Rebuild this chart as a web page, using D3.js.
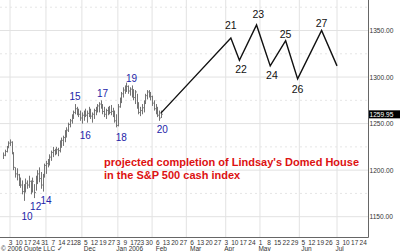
<!DOCTYPE html>
<html>
<head>
<meta charset="utf-8">
<script src="https://cdn.jsdelivr.net/npm/d3@7"></script>
<style>
  body { margin: 0; background: #fff; }
  svg { display: block; font-family: Arial, "Liberation Sans", sans-serif; }
</style>
</head>
<body>
<svg id="chart" width="400" height="251"></svg>
<script>
// trading calendar (market closed on these days)
const holidays = ["2005-11-24", "2005-12-26", "2006-01-02", "2006-01-16"];
const firstBar = "2005-09-27";

// daily bars, S&P 500 cash, one entry per trading day from firstBar
const barHigh = [1219,1222,1226,1231,1233,1231,1219,1203,1202,1196,1192,1189,1185,1191,1189,1194,1189,1192,1185,1194,
  1200,1203,1198,1196,1207,1210,1212,1217,1221,1225,1223,1225,1224,1232,1235,1237,1243,1246,1251,1255,
  1260,1264,1271,1268,1266,1264,1262,1264,1266,1264,1268,1266,1262,1266,1268,1271,1273,1275,1271,1268,
  1266,1268,1269,1270,1267,1264,1260,1271,1278,1284,1289,1291,1294,1291,1289,1291,1287,1286,1282,1273,
  1268,1271,1275,1282,1286,1286,1284,1280,1275,1271,1268,1264,1264];
const barLow = [1212,1215,1219,1224,1226,1217,1200,1192,1189,1183,1181,1174,1167,1176,1180,1181,1174,1176,1170,1178,
  1185,1187,1180,1177,1192,1196,1203,1205,1210,1214,1216,1217,1215,1219,1224,1226,1230,1235,1241,1246,
  1250,1255,1260,1259,1257,1253,1250,1253,1257,1251,1257,1255,1251,1255,1259,1262,1262,1266,1260,1257,
  1255,1259,1260,1259,1257,1251,1246,1247,1267,1272,1278,1282,1284,1282,1280,1278,1275,1271,1266,1260,
  1258,1260,1262,1271,1276,1278,1275,1269,1264,1260,1257,1253,1256];
const barClose = [1216,1220,1224,1229,1230,1219,1203,1196,1195,1187,1184,1177,1178,1186,1184,1188,1178,1188,1176,1191,
  1196,1191,1184,1193,1205,1207,1210,1214,1219,1221,1219,1222,1221,1230,1232,1235,1240,1243,1249,1253,
  1258,1262,1266,1263,1260,1256,1259,1262,1259,1261,1265,1258,1260,1264,1266,1269,1271,1268,1263,1260,
  1264,1265,1262,1263,1260,1253,1248,1268,1274,1282,1286,1289,1290,1285,1287,1283,1278,1284,1268,1262,
  1264,1267,1273,1280,1284,1281,1279,1272,1266,1263,1259,1256,1260];
const lastPrice = 1259.95;

// projected path of the domed house
const projDates = ["2006-02-08","2006-04-06","2006-04-13","2006-04-27","2006-05-09","2006-05-22","2006-05-31","2006-06-20","2006-07-03"];
const projValues = [1261, 1342, 1318, 1356, 1312, 1339, 1298, 1350, 1312];

// wave count labels (anchored in date / price units)
const waveNames = ["10","12","14","15","16","17","18","19","20"];
const waveDates = ["2005-10-17","2005-10-24","2005-11-01","2005-11-25","2005-12-05","2005-12-19","2006-01-05","2006-01-13","2006-02-09"];
const wavePrices = [1146.5, 1157.5, 1164, 1275.3, 1233.5, 1278.6, 1231.3, 1294.7, 1240];
const projNames = ["21","22","23","24","25","26","27"];
const projLabelDates = ["2006-04-06","2006-04-14","2006-04-28","2006-05-10","2006-05-22","2006-05-31","2006-06-20"];
const projLabelPrices = [1351.6, 1304.4, 1363.4, 1297.9, 1341.9, 1282.9, 1353.8];

// axes
const priceTicks = [1150, 1200, 1250, 1300, 1350];
const minorPriceTicks = [1175, 1225, 1275, 1325, 1375];
const weekTicks = ["2005-10-03","2005-10-10","2005-10-17","2005-10-24","2005-10-31","2005-11-07","2005-11-14","2005-11-21","2005-11-28",
  "2005-12-05","2005-12-12","2005-12-19","2005-12-27","2006-01-03","2006-01-09","2006-01-17","2006-01-23","2006-01-30",
  "2006-02-06","2006-02-13","2006-02-20","2006-02-27","2006-03-06","2006-03-13","2006-03-20","2006-03-27",
  "2006-04-03","2006-04-10","2006-04-17","2006-04-24","2006-05-01","2006-05-08","2006-05-15","2006-05-22","2006-05-29",
  "2006-06-05","2006-06-12","2006-06-19","2006-06-26","2006-07-03","2006-07-10","2006-07-17","2006-07-24"];
const monthNames = ["Dec","Jan 2006","Feb","Mar","Apr","May","Jun","Jul"];
const monthDates = ["2005-12-05","2006-01-03","2006-02-06","2006-03-06","2006-04-03","2006-05-01","2006-06-05","2006-07-03"];
const gridDates = ["2005-10-03","2005-11-01","2005-12-01","2006-01-03","2006-02-01","2006-03-01","2006-04-03","2006-05-01","2006-06-01","2006-07-03"];

// build a trading-day index, Oct 3 2005 = 0
const dayIdx = new Map();
const tradingDays = [];
(function(){
  let d = new Date(Date.UTC(2005, 8, 19));
  const end = new Date(Date.UTC(2006, 7, 1));
  let k = 0;
  while (d <= end) {
    const s = d.toISOString().slice(0, 10);
    const wd = d.getUTCDay();
    if (wd != 0 && wd != 6 && !holidays.includes(s)) {
      tradingDays.push(s);
      dayIdx.set(s, k++);
    }
    d.setUTCDate(d.getUTCDate() + 1);
  }
  const base = dayIdx.get("2005-10-03");
  tradingDays.forEach(s => dayIdx.set(s, dayIdx.get(s) - base));
})();
const idx = s => dayIdx.get(s);

const W = 400, H = 251;
const plotRight = 368, plotBottom = 237.5;

const x = d3.scaleLinear().domain([0, idx("2006-07-03")]).range([10, 337]);
const y = d3.scaleLinear().domain([1150, 1350]).range([216.7, 30.5]);

const svg = d3.select("#chart");

// grid
const grid = svg.append("g");
grid.selectAll("line.h").data(priceTicks).enter().append("line")
  .attr("x1", 0).attr("x2", plotRight)
  .attr("y1", d => y(d)).attr("y2", d => y(d))
  .style("stroke", "#e2e2e2").style("stroke-width", 1);
grid.selectAll("line.hm").data(minorPriceTicks).enter().append("line")
  .attr("x1", 0).attr("x2", plotRight)
  .attr("y1", d => y(d)).attr("y2", d => y(d))
  .style("stroke", "#e6e6e6").style("stroke-dasharray", "2,3");
grid.selectAll("line.v").data(gridDates).enter().append("line")
  .attr("x1", d => x(idx(d))).attr("x2", d => x(idx(d)))
  .attr("y1", 0).attr("y2", plotBottom)
  .style("stroke", "#e2e2e2").style("stroke-width", 1);

// OHLC bars
const startIdx = tradingDays.indexOf(firstBar);
const bars = barHigh.map((h, i) => ({
  day: tradingDays[startIdx + i], high: h, low: barLow[i], close: barClose[i]
}));
const barG = svg.append("g").style("stroke", "#737373").style("stroke-width", 1);
barG.selectAll("line.hl").data(bars).enter().append("line")
  .attr("x1", d => Math.round(x(idx(d.day))) + 0.5).attr("x2", d => Math.round(x(idx(d.day))) + 0.5)
  .attr("y1", d => y(d.high)).attr("y2", d => y(d.low));
barG.selectAll("line.c").data(bars).enter().append("line")
  .attr("x1", d => Math.round(x(idx(d.day))) + 0.5).attr("x2", d => Math.round(x(idx(d.day))) + 1.8)
  .attr("y1", d => y(d.close)).attr("y2", d => y(d.close));

// projection
const proj = projDates.map((d, i) => ({ day: d, v: projValues[i] }));
svg.append("path")
  .datum(proj)
  .attr("d", d3.line().x(d => x(idx(d.day))).y(d => y(d.v)))
  .style("fill", "none").style("stroke", "#111").style("stroke-width", 1.4);

// wave labels
svg.append("g").selectAll("text").data(waveNames).enter().append("text")
  .attr("x", (d, i) => x(idx(waveDates[i])))
  .attr("y", (d, i) => y(wavePrices[i]))
  .attr("text-anchor", "middle")
  .style("font-size", "10px").style("fill", "#2323a8")
  .text(d => d);
svg.append("g").selectAll("text").data(projNames).enter().append("text")
  .attr("x", (d, i) => x(idx(projLabelDates[i])))
  .attr("y", (d, i) => y(projLabelPrices[i]))
  .attr("text-anchor", "middle")
  .style("font-size", "10.5px").style("fill", "#111")
  .text(d => d);

// note
const note = svg.append("g").style("font-size", "11px").style("font-weight", "bold").style("fill", "#dd1111");
note.append("text").attr("x", 104).attr("y", 166).text("projected completion of Lindsay's Domed House");
note.append("text").attr("x", 104).attr("y", 178.5).text("in the S&P 500 cash index");

// axis frame
svg.append("line").attr("x1", plotRight + 0.5).attr("x2", plotRight + 0.5).attr("y1", 0).attr("y2", plotBottom)
  .style("stroke", "#666");
svg.append("line").attr("x1", 0).attr("x2", plotRight + 0.5).attr("y1", plotBottom).attr("y2", plotBottom)
  .style("stroke", "#666");

// right price axis
const yAxis = svg.append("g")
  .attr("transform", `translate(${plotRight},0)`)
  .call(d3.axisRight(y).tickValues(priceTicks).tickFormat(d3.format(".2f")).tickSize(0).tickPadding(1.5));
yAxis.select(".domain").remove();
yAxis.selectAll("text").style("font-size", "6.6px").style("fill", "#333").attr("font-family", null);

// last price box
svg.append("rect").attr("x", plotRight + 1).attr("y", y(lastPrice) - 4).attr("width", W - plotRight - 1).attr("height", 8)
  .style("fill", "#000");
svg.append("text").attr("x", plotRight + 1.5).attr("y", y(lastPrice)).attr("dy", "0.35em")
  .style("font-size", "6.6px").style("fill", "#fff").text(lastPrice.toFixed(2));

// bottom date axis
const xAxis = svg.append("g")
  .attr("transform", `translate(0,${plotBottom})`)
  .call(d3.axisBottom(x).tickValues(weekTicks.map(idx))
    .tickFormat((d, i) => String(+weekTicks[i].slice(8))).tickSize(0).tickPadding(2.4));
xAxis.select(".domain").remove();
xAxis.selectAll("text").style("font-size", "6.5px").style("fill", "#333").attr("font-family", null);

svg.append("g").selectAll("text").data(monthNames).enter().append("text")
  .attr("x", (d, i) => x(idx(monthDates[i])) - 1.5)
  .attr("y", 250.5)
  .style("font-size", "6.5px").style("fill", "#333")
  .text(d => d);

svg.append("text").attr("x", 1).attr("y", 250.5)
  .style("font-size", "6.5px").style("fill", "#333")
  .text("\u00a9 2006 Quote LLC \u2713");
</script>
</body>
</html>
